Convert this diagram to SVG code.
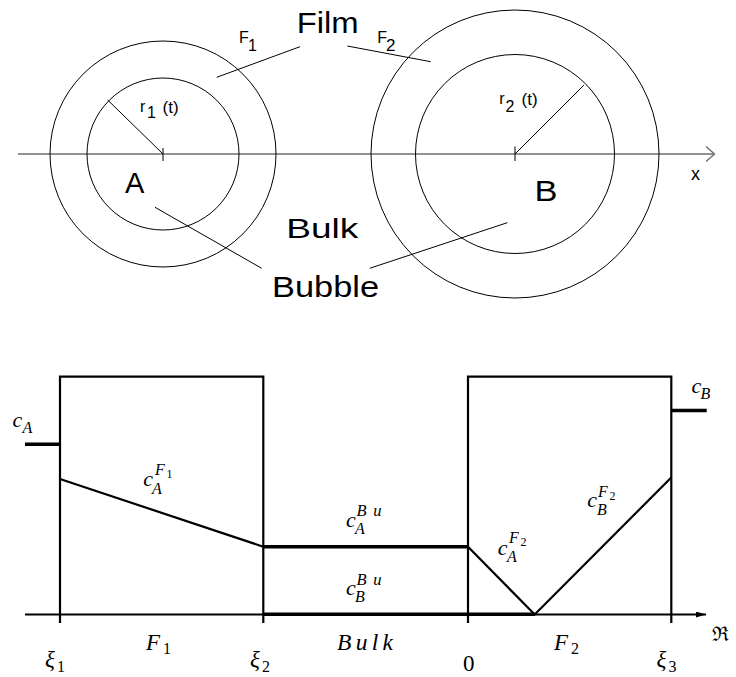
<svg xmlns="http://www.w3.org/2000/svg" width="736" height="677" viewBox="0 0 736 677">
<defs>
<style>
.c{fill:none;stroke:#000;stroke-width:1}
.ax{fill:none;stroke:#6e6e6e;stroke-width:1.4}
.s{font-family:"Liberation Sans",Arial,sans-serif;fill:#000}
.m{font-family:"Liberation Serif","Times New Roman",serif;font-style:italic;fill:#000}
.n{font-family:"Liberation Serif","Times New Roman",serif;font-style:normal;fill:#000}
.b2{fill:none;stroke:#000;stroke-width:2.2}
.b3{fill:none;stroke:#000;stroke-width:3.5}
</style>
<marker id="tri" viewBox="0 0 10 6" refX="10" refY="3" markerWidth="10" markerHeight="6" markerUnits="userSpaceOnUse" orient="auto">
<path d="M0,0 L10,3 L0,6 Z" fill="#000"/>
</marker>
</defs>
<rect width="736" height="677" fill="#fff"/>

<!-- top scene -->
<g id="axis-x">
<line class="ax" x1="18" y1="154" x2="714" y2="154"/>
<polyline class="ax" points="706,146.5 714.5,154 706,161.5"/>
<text class="s" x="691" y="180" font-size="18">x</text>
</g>
<g id="bubble-A">
<circle class="c" cx="163" cy="154" r="113"/>
<circle class="c" cx="163" cy="154" r="76"/>
<line class="c" x1="163" y1="148" x2="163" y2="161"/>
<line class="c" x1="163" y1="154" x2="107.7" y2="100"/>
<text class="s" x="140" y="112" font-size="16">r</text>
<text class="s" x="147" y="118.3" font-size="16">1</text>
<text class="s" x="162.5" y="113" font-size="17">(t)</text>
<text class="s" x="125" y="193.3" font-size="29">A</text>
</g>
<g id="bubble-B">
<circle class="c" cx="515" cy="154" r="144"/>
<circle class="c" cx="515" cy="154" r="99.5"/>
<line class="c" x1="515" y1="146.5" x2="515" y2="161"/>
<line class="c" x1="515" y1="154" x2="584" y2="85"/>
<text class="s" x="499.3" y="104" font-size="16">r</text>
<text class="s" x="505.5" y="111.7" font-size="16">2</text>
<text class="s" x="521.5" y="104.5" font-size="17">(t)</text>
<text class="s" x="534.5" y="200.7" font-size="29" textLength="23" lengthAdjust="spacingAndGlyphs">B</text>
</g>
<g id="labels-top">
<text class="s" x="296.7" y="33.3" font-size="29" textLength="62" lengthAdjust="spacingAndGlyphs">Film</text>
<text class="s" x="239" y="43.3" font-size="16">F</text>
<text class="s" x="248" y="50.5" font-size="16">1</text>
<text class="s" x="377.3" y="43.3" font-size="16">F</text>
<text class="s" x="386" y="50.5" font-size="17">2</text>
<text class="s" x="286.3" y="238.3" font-size="28" textLength="72" lengthAdjust="spacingAndGlyphs">Bulk</text>
<text class="s" x="272" y="296.7" font-size="29" textLength="107" lengthAdjust="spacingAndGlyphs">Bubble</text>
<line class="c" x1="300" y1="46.7" x2="216.7" y2="77.3"/>
<line class="c" x1="347.3" y1="46" x2="430.7" y2="61.7"/>
<line class="c" x1="155" y1="207.3" x2="261.7" y2="268.3"/>
<line class="c" x1="507.3" y1="222.7" x2="369.7" y2="268.3"/>
</g>

<!-- bottom profile -->
<g id="film-F1">
<path class="b2" d="M60,623 V376.7 H263.3 V623"/>
</g>
<g id="film-F2">
<path class="b2" d="M468,623 V376.7 H671.3 V623"/>
</g>
<g id="connectors">
<line class="b2" x1="25" y1="614.5" x2="706" y2="614.5" marker-end="url(#tri)"/>
<line class="b3" x1="263.3" y1="614.2" x2="534.7" y2="614.2"/>
<line class="b3" x1="25" y1="444.3" x2="60" y2="444.3"/>
<line class="b2" x1="60" y1="479" x2="263.3" y2="546.7"/>
<line class="b3" x1="263.3" y1="546.7" x2="468" y2="546.7"/>
<polyline class="b2" points="468,546.7 534.7,614.5 671.3,477.5"/>
<line class="b3" x1="671.3" y1="410.5" x2="706.7" y2="410.5"/>
</g>
<g id="labels-bottom">
<text class="m" x="12.5" y="426.7" font-size="22">c</text>
<text class="m" x="22.5" y="432.5" font-size="16">A</text>

<text class="m" x="143.3" y="486" font-size="22">c</text>
<text class="m" x="152" y="493.5" font-size="16">A</text>
<text class="m" x="155" y="475" font-size="16">F</text>
<text class="n" x="166.5" y="478" font-size="12">1</text>

<text class="m" x="346" y="526.7" font-size="22">c</text>
<text class="m" x="355" y="533.5" font-size="16">A</text>
<text class="m" x="356.5" y="515.7" font-size="16.5" textLength="25" lengthAdjust="spacing">Bu</text>

<text class="m" x="346" y="595" font-size="22">c</text>
<text class="m" x="355" y="602.3" font-size="16">B</text>
<text class="m" x="356.5" y="585" font-size="16.5" textLength="25" lengthAdjust="spacing">Bu</text>

<text class="m" x="497.7" y="555" font-size="22">c</text>
<text class="m" x="507" y="562.3" font-size="16">A</text>
<text class="m" x="509" y="542.5" font-size="16">F</text>
<text class="n" x="520.5" y="545.5" font-size="12">2</text>

<text class="m" x="587.3" y="506.7" font-size="22">c</text>
<text class="m" x="597" y="514.5" font-size="16">B</text>
<text class="m" x="598" y="496.7" font-size="16">F</text>
<text class="n" x="609.5" y="499.5" font-size="12">2</text>

<text class="m" x="691.5" y="393.3" font-size="22">c</text>
<text class="m" x="700.5" y="398.8" font-size="16">B</text>

<text class="m" x="45" y="667" font-size="23">ξ</text>
<text class="n" x="57" y="672" font-size="16">1</text>
<text class="m" x="146" y="650" font-size="23">F</text>
<text class="n" x="163" y="654" font-size="16">1</text>
<text class="m" x="250" y="667" font-size="23">ξ</text>
<text class="n" x="262" y="672" font-size="16">2</text>
<text class="m" x="337" y="650" font-size="23.5" textLength="56" lengthAdjust="spacing">Bulk</text>
<text class="n" x="463" y="671" font-size="23">0</text>
<text class="m" x="554" y="650" font-size="23">F</text>
<text class="n" x="571" y="654" font-size="16">2</text>
<text class="m" x="656.5" y="667" font-size="23">ξ</text>
<text class="n" x="668.5" y="672" font-size="16">3</text>
<text x="712" y="641" font-size="20" font-family="DejaVu Serif,serif">ℜ</text>
</g>
</svg>
